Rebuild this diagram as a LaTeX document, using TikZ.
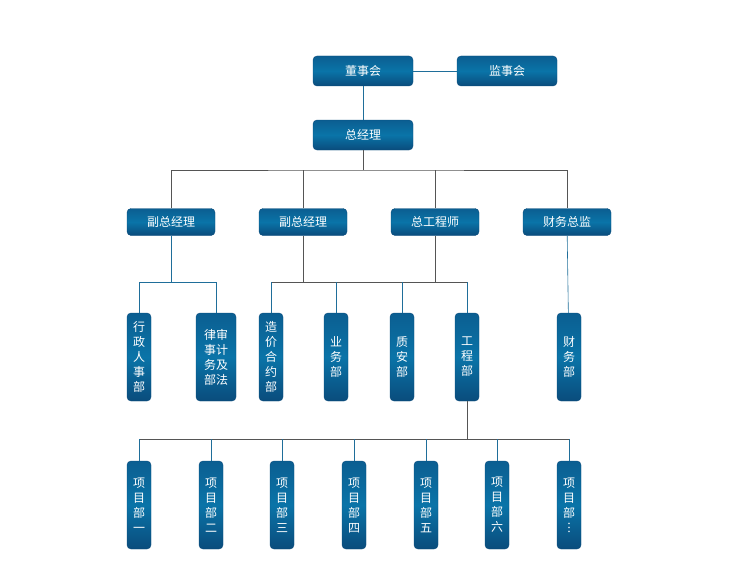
\documentclass[tikz,border=0pt]{standalone}
\usepackage{fontspec}
\newfontfamily\cjk{Noto Sans CJK SC}
\usetikzlibrary{positioning}
\definecolor{boxtop}{HTML}{0B5E91}
\definecolor{boxmid}{HTML}{0A74A8}
\definecolor{boxbot}{HTML}{0A4C7C}
\definecolor{link}{HTML}{1F6E9A}
\definecolor{bus}{HTML}{555555}

\begin{document}
\begin{tikzpicture}[
x=1pt, y=-1pt,
box/.style={
  draw=boxbot,
  rounded corners=4pt,
  top color=boxtop,
  bottom color=boxbot,
  middle color=boxmid,
  text=white,
  font=\cjk\fontsize{12}{14}\selectfont,
  inner sep=0pt
  },
wide/.style={box, minimum width=100pt, minimum height=30pt},
mid/.style={box, minimum width=88pt, minimum height=27pt},
tall/.style={box, minimum width=24pt, minimum height=88pt, align=center,
  font=\cjk\fontsize{12}{15}\selectfont},
stub/.style={draw=link, line width=0.6pt},
trunk/.style={draw=bus, line width=0.6pt}
]
\useasboundingbox (0,0) rectangle (738,583);

% top
\node[wide] (board) at (363,71) {董事会};
\node[wide] (super) at (507,71) {监事会};
\node[wide] (gm) at (363,135) {总经理};

% second row
\node[mid] (vpa) at (171,222) {副总经理};
\node[mid] (vpb) at (303,222) {副总经理};
\node[mid] (ce) at (435,222) {总工程师};
\node[mid] (cfo) at (567,222) {财务总监};

% departments
\node[tall] (hr) at (139,357) {行\\政\\人\\事\\部};
\node[tall, minimum width=40pt] (audit) at (216,357) {律审\\事计\\务及\\部法};
\node[tall] (cost) at (271,357) {造\\价\\合\\约\\部};
\node[tall] (biz) at (336,357) {业\\务\\部};
\node[tall] (qs) at (402,357) {质\\安\\部};
\node[tall] (eng) at (467,357) {工\\程\\部};
\node[tall] (fin) at (569,357) {财\\务\\部};

% projects
\foreach \px/\pn [count=\pi] in {139/一,211/二,282/三,354/四,426/五,497/六,569/︙}
  \node[tall] (p\pi) at (\px,505) {项\\目\\部\\\pn};

% bus levels
\coordinate (gmbus) at (363,170);
\coordinate (deptbus) at (0,282);
\coordinate (projbus) at (0,439);

% connectors
\draw[stub] (board) -- (super);
\draw[stub] (board) -- (gm);
\draw[trunk] (gm) -- (gmbus);
\draw[trunk] (vpa.north) |- (gmbus) -| (cfo.north);
\foreach \n in {vpb,ce}
  \draw[trunk] (\n.north) -- (\n.north |- gmbus);

\draw[stub] (vpa) -- (vpa |- deptbus);
\draw[stub] (hr.north |- deptbus) -- (audit.north |- deptbus);
\draw[trunk] (vpb) -- (vpb |- deptbus);
\draw[trunk] (ce) -- (ce |- deptbus);
\draw[trunk] (cost.north |- deptbus) -- (eng.north |- deptbus);
\foreach \n in {hr,audit,cost,biz,qs,eng}
  \draw[stub] (\n.north) -- (\n.north |- deptbus);
\draw[stub] (cfo) -- (fin);

\draw[trunk] (eng) -- (eng |- projbus);
\draw[trunk] (p1.north |- projbus) -- (p7.north |- projbus);
\foreach \i in {1,...,7}
  \draw[stub] (p\i.north) -- (p\i.north |- projbus);
\end{tikzpicture}
\end{document}
